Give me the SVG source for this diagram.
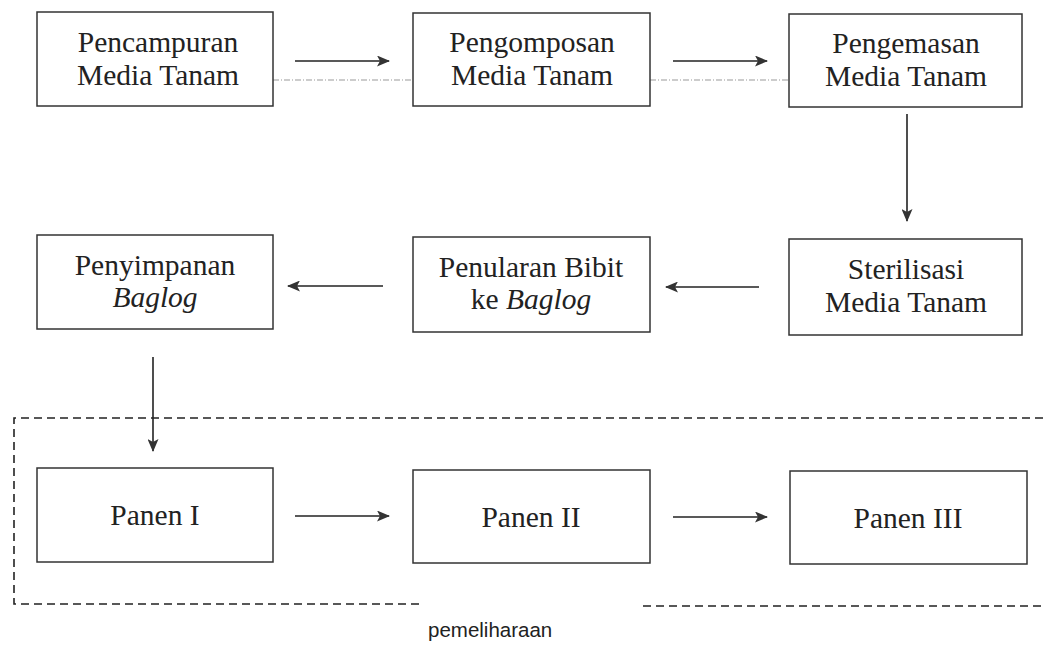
<svg xmlns="http://www.w3.org/2000/svg" width="1043" height="646" viewBox="0 0 1043 646">
<style>
.box{fill:#fff;stroke:#333;stroke-width:1.5}
.t{font-family:"Liberation Serif","Times New Roman",serif;font-size:29.5px;fill:#222;text-anchor:middle}
.i{font-style:italic}
.c{stroke:#222;stroke-width:1.6;fill:none}
.faint{stroke:#999;stroke-width:1;stroke-dasharray:6 2 1 2;fill:none}
.dash{stroke:#222;stroke-width:1.6;stroke-dasharray:8 5;fill:none}
.lbl{font-family:"Liberation Sans",Arial,sans-serif;font-size:20.5px;fill:#222}
</style>
<defs>
<marker id="ah" markerWidth="13" markerHeight="11" refX="12" refY="5.5" orient="auto" markerUnits="userSpaceOnUse">
<path d="M0,0 L13,5.5 L0,11 L3,5.5 Z" fill="#333"/>
</marker>
</defs>
<rect width="1043" height="646" fill="#fff"/>
<g id="group-pemeliharaan">
<path class="dash" d="M1043,418 H14 V604 H422"/>
<path class="dash" d="M643,606 H1043"/>
<text class="lbl" x="428" y="637">pemeliharaan</text>
</g>
<g id="connectors">
<line class="faint" x1="273" y1="80" x2="413" y2="80"/>
<line class="faint" x1="650" y1="80" x2="789" y2="80"/>
<line class="c" x1="295" y1="61" x2="389" y2="61" marker-end="url(#ah)"/>
<line class="c" x1="673" y1="61" x2="767" y2="61" marker-end="url(#ah)"/>
<line class="c" x1="907" y1="114" x2="907" y2="221" marker-end="url(#ah)"/>
<line class="c" x1="759" y1="287" x2="666" y2="287" marker-end="url(#ah)"/>
<line class="c" x1="383" y1="286" x2="288" y2="286" marker-end="url(#ah)"/>
<line class="c" x1="153" y1="357" x2="153" y2="451" marker-end="url(#ah)"/>
<line class="c" x1="295" y1="516" x2="389" y2="516" marker-end="url(#ah)"/>
<line class="c" x1="673" y1="517" x2="767" y2="517" marker-end="url(#ah)"/>
</g>
<g id="n1"><rect class="box" x="37" y="12" width="236" height="94"/><text class="t" x="158" y="52">Pencampuran</text><text class="t" x="158" y="85">Media Tanam</text></g>
<g id="n2"><rect class="box" x="413" y="13" width="237" height="93"/><text class="t" x="532" y="52">Pengomposan</text><text class="t" x="532" y="85">Media Tanam</text></g>
<g id="n3"><rect class="box" x="789" y="14" width="233" height="93"/><text class="t" x="906" y="53">Pengemasan</text><text class="t" x="906" y="86">Media Tanam</text></g>
<g id="n4"><rect class="box" x="37" y="235" width="236" height="94"/><text class="t" x="155" y="275">Penyimpanan</text><text class="t i" x="155" y="307">Baglog</text></g>
<g id="n5"><rect class="box" x="413" y="237" width="237" height="95"/><text class="t" x="531" y="277">Penularan Bibit</text><text class="t" x="531" y="309">ke <tspan class="i">Baglog</tspan></text></g>
<g id="n6"><rect class="box" x="789" y="239" width="233" height="96"/><text class="t" x="906" y="279">Sterilisasi</text><text class="t" x="906" y="312">Media Tanam</text></g>
<g id="n7"><rect class="box" x="37" y="468" width="236" height="94"/><text class="t" x="155" y="525">Panen I</text></g>
<g id="n8"><rect class="box" x="413" y="470" width="237" height="93"/><text class="t" x="531" y="527">Panen II</text></g>
<g id="n9"><rect class="box" x="790" y="471" width="237" height="93"/><text class="t" x="908" y="528">Panen III</text></g>
</svg>
